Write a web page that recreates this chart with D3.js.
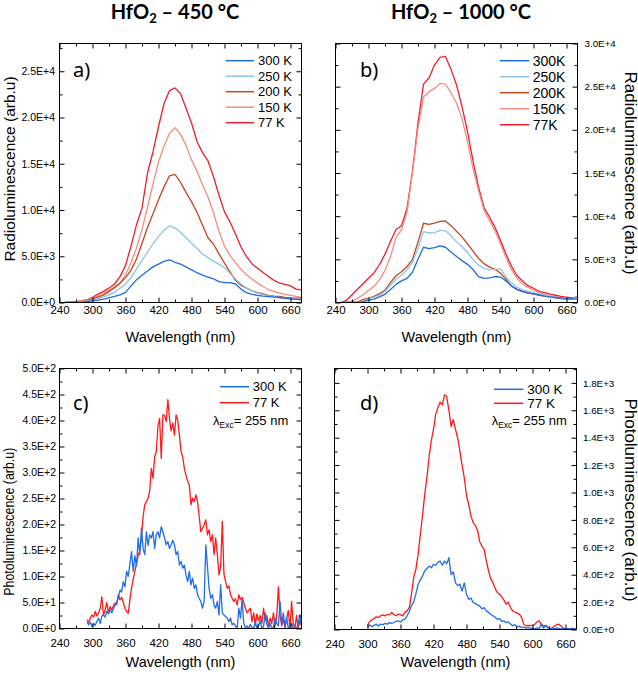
<!DOCTYPE html>
<html>
  <head>
    <meta charset="utf-8">
    <title>HfO2 radio- and photoluminescence</title>
    <script src="https://cdn.jsdelivr.net/npm/d3@7"></script>
    <style>
      body { margin: 0; background: #fff; }
      svg { display: block; font-family: "Liberation Sans", Arial, sans-serif; }
      .tick text { fill: #000; }
      .title { font-family: Lato, "Open Sans", sans-serif; font-weight: bold; font-size: 20px; }
      .plabel { font-family: "Noto Sans", sans-serif; font-size: 20px; }
    </style>
  </head>

  <body>
    <svg id="chart" width="638" height="674"></svg>

    <script>
      // ---- data ----
      // radioluminescence, wavelength grid (nm)
      rlNm = [250, 260, 270, 280, 290, 300, 310, 320, 330, 340, 350, 360, 370, 380, 390, 400, 410, 420, 430, 440, 450, 460,
              470, 480, 490, 500, 510, 520, 530, 540, 550, 560, 570, 580, 590, 600, 610, 620, 630, 640, 650, 660, 670, 680];

      // a) HfO2 450 C
      a300 = [0, 5, 20, 50, 100, 170, 250, 360, 500, 650, 830, 1100, 1800, 2450, 2950, 3400, 3850, 4150, 4450, 4600, 4350, 4150,
              3850, 3530, 3220, 2950, 2750, 2550, 2250, 2150, 2150, 2000, 1450, 1060, 880, 770, 690, 630, 580, 540, 460, 400, 340, 290];
      a250 = [0, 5, 30, 80, 170, 280, 420, 600, 830, 1100, 1550, 2000, 2700, 3600, 4550, 5450, 6350, 7150, 7800, 8300, 8050, 7600,
              7000, 6400, 5850, 5250, 4850, 4450, 4150, 3750, 3150, 2550, 2000, 1550, 1250, 1000, 850, 720, 620, 540, 460, 400, 370, 360];
      a200 = [0, 10, 40, 100, 200, 380, 580, 800, 1200, 1600, 2090, 2700, 3500, 4700, 6400, 8100, 9600, 11100, 12500, 13700, 13850, 13000,
              11900, 10910, 9750, 8350, 7000, 6300, 5250, 4250, 3300, 2400, 1850, 1550, 1250, 1070, 920, 780, 700, 650, 560, 500, 480, 470];
      a150 = [0, 20, 60, 150, 280, 480, 720, 1000, 1300, 1700, 2090, 3000, 4300, 5900, 7900, 10300, 12800, 15200, 16900, 18300, 18900, 18200,
              17000, 15420, 14200, 12700, 11400, 9700, 7700, 6100, 5100, 4300, 3600, 2990, 2550, 2100, 1730, 1400, 1210, 1010, 870, 760, 660, 540];
      a77 = [0, 50, 100, 180, 300, 550, 900, 1200, 1550, 2000, 2800, 4000, 6100, 8400, 10200, 14000, 16300, 19000, 21500, 22900, 23200, 22600,
             21000, 19400, 17400, 16200, 15300, 13600, 11600, 9800, 8700, 7400, 6000, 4970, 4200, 3700, 3250, 2800, 2400, 2090, 1950, 1800, 1450, 1370];

      // b) HfO2 1000 C
      b300 = [0, 0, 0, 0, 80, 280, 400, 660, 950, 1500, 2100, 2500, 2800, 3500, 5000, 6400, 6250, 6350, 6550, 6400, 5850, 5330,
              4850, 4420, 3820, 3000, 2800, 2850, 3010, 2950, 2500, 1900, 1550, 1300, 1120, 990, 870, 750, 650, 580, 520, 460, 420, 390];
      b250 = [0, 0, 0, 0, 80, 450, 630, 850, 1270, 2000, 2700, 3150, 3780, 4650, 6300, 8210, 8050, 8100, 8350, 8300, 7750, 7050,
              6450, 5800, 5000, 4350, 3950, 3780, 3800, 3900, 3000, 2250, 1800, 1450, 1300, 1150, 990, 840, 740, 620, 520, 420, 450, 580];
      b200 = [0, 0, 0, 80, 330, 520, 710, 1020, 1450, 2300, 3100, 3560, 4160, 5000, 7000, 9180, 9050, 9200, 9400, 9450, 8900, 8250,
              7600, 6800, 5950, 5120, 4500, 4100, 3850, 3400, 2700, 1900, 1500, 1250, 1100, 990, 870, 740, 640, 540, 440, 390, 400, 650];
      b150 = [0, 0, 150, 500, 900, 1400, 1870, 2650, 3700, 5300, 7550, 8400, 10500, 15100, 20200, 23800, 24400, 24800, 25370, 25300, 24300, 23100,
              21300, 18600, 15500, 13000, 10700, 9500, 8300, 6800, 5200, 3800, 2800, 2150, 1750, 1450, 1120, 950, 780, 660, 560, 460, 430, 600];
      b77 = [0, 250, 900, 1530, 2180, 2800, 3420, 4400, 5600, 7100, 8450, 8900, 10900, 15200, 20800, 25300, 26000, 27500, 28400, 28500, 27000, 25200,
             22700, 19800, 16400, 13400, 11000, 9900, 8700, 7200, 5600, 4200, 3100, 2500, 1950, 1650, 1300, 1150, 980, 840, 700, 620, 520, 650];

      // c) photoluminescence, HfO2 450 C
      cNm = [290, 293, 296, 299, 302, 305, 308, 311, 314, 317, 320, 323, 326, 329, 332, 335, 338, 341, 344, 347,
             350, 353, 356, 359, 362, 365, 368, 371, 374, 377, 380, 383, 386, 389, 392, 395, 398, 401, 404, 407,
             410, 413, 416, 419, 422, 425, 428, 431, 434, 437, 440, 443, 446, 449, 452, 455, 458, 461, 464, 467,
             470, 473, 476, 479, 482, 485, 488, 491, 494, 497, 500, 503, 506, 509, 512, 515, 518, 521, 524, 527,
             530, 533, 536, 539, 542, 545, 548, 551, 554, 557, 560, 563, 566, 569, 572, 575, 578, 581, 584, 587,
             590, 593, 596, 599, 602, 605, 608, 611, 614, 617, 620, 623, 626, 629, 632, 635, 638, 641, 644, 647,
             650, 653, 656, 659, 662, 665, 668, 671, 674, 677, 680];
      c300 = [13, 7, 12, 4, 10, 6, 14, 20, 10, 24, 26, 22, 33, 28, 36, 30, 38, 45, 50, 60,
              74, 70, 90, 80, 110, 100, 125, 148, 110, 140, 120, 174, 142, 193, 154, 142, 186, 160, 180, 174,
              186, 154, 180, 186, 174, 196, 186, 174, 161, 167, 154, 161, 170, 161, 142, 148, 122, 129, 116, 122,
              103, 90, 110, 84, 97, 77, 84, 65, 58, 52, 39, 52, 161, 120, 77, 58, 65, 45, 39, 52,
              26, 84, 30, 26, 23, 20, 13, 20, 7, 10, 5, 0, 39, 20, 55, 10, 0, 5, 0, 8,
              2, 0, 12, 0, 5, 15, 0, 4, 30, 8, 0, 10, 0, 3, 20, 10, 5, 52, 10, 30,
              2, 22, 0, 5, 10, 0, 0, 0, 10, 26, 5];
      c77 = [17, 12, 20, 26, 22, 33, 24, 30, 39, 61, 26, 35, 50, 30, 42, 36, 44, 49, 46, 65,
             55, 60, 50, 39, 33, 29, 55, 78, 95, 110, 125, 140, 150, 175, 215, 238, 244, 250, 265, 308,
             289, 330, 340, 390, 404, 327, 411, 410, 398, 440, 404, 380, 395, 372, 411, 400, 372, 340, 330, 308,
             295, 283, 276, 238, 251, 244, 257, 244, 215, 186, 193, 199, 209, 180, 190, 167, 180, 142, 174, 142,
             103, 120, 206, 105, 90, 77, 82, 65, 58, 52, 57, 45, 65, 55, 60, 50, 39, 30, 35, 39,
             13, 30, 7, 28, 15, 25, 10, 39, 15, 25, 6, 20, 10, 30, 5, 25, 80, 25, 5, 18,
             0, 20, 35, 0, 52, 10, 0, 25, 0, 15, 5];

      // d) photoluminescence, HfO2 1000 C
      dNm = [300, 304, 308, 312, 316, 320, 324, 328, 332, 336, 340, 344, 348, 352, 356, 360, 364, 368, 372, 376,
             380, 384, 388, 392, 396, 400, 404, 408, 412, 416, 420, 424, 428, 432, 436, 440, 444, 448, 452, 456,
             460, 464, 468, 472, 476, 480, 484, 488, 492, 496, 500, 504, 508, 512, 516, 520, 524, 528, 532, 536,
             540, 544, 548, 552, 556, 560, 564, 568, 572, 576, 580, 584, 588, 592, 596, 600, 604, 608, 612, 616,
             620, 624, 628, 632, 636, 640, 644, 648, 652, 656, 660, 664, 668, 672, 676, 680];
      d300 = [15, 34, 20, 30, 39, 25, 40, 35, 45, 39, 50, 45, 51, 60, 63, 55, 70, 75, 100, 130,
              175, 200, 260, 330, 360, 390, 427, 445, 463, 450, 476, 470, 490, 500, 470, 500, 480, 524, 400, 420,
              340, 320, 330, 280, 340, 257, 220, 230, 197, 190, 180, 172, 150, 160, 136, 125, 112, 100, 90, 75,
              80, 60, 63, 50, 55, 40, 27, 35, 20, 25, 15, 18, 10, 15, 8, 10, 5, 12, 8, 39,
              10, 27, 12, 8, 10, 5, 12, 8, 5, 10, 4, 8, 3, 10, 3, 8];
      d77 = [30, 60, 70, 80, 92, 88, 100, 107, 100, 110, 107, 124, 110, 100, 112, 108, 100, 125, 136, 160,
             260, 380, 440, 548, 690, 830, 985, 1110, 1260, 1380, 1460, 1570, 1620, 1660, 1640, 1713, 1700, 1600, 1482, 1531,
             1460, 1398, 1300, 1200, 1106, 980, 912, 830, 780, 760, 725, 640, 609, 585, 500, 430, 370, 342, 300, 270,
             257, 240, 215, 184, 200, 160, 136, 128, 120, 112, 90, 39, 27, 30, 28, 30, 35, 55, 63, 40,
             27, 30, 18, 5, 10, 25, 35, 39, 25, 10, 3, 2, 3, 2, 3, 2];

      // ticks
      xTicks = [240, 300, 360, 420, 480, 540, 600, 660];
      aTicks = [0, 5000, 10000, 15000, 20000, 25000];
      bTicks = [0, 5000, 10000, 15000, 20000, 25000, 30000];
      cTicks = [0, 50, 100, 150, 200, 250, 300, 350, 400, 450, 500];
      dTicks = [0, 200, 400, 600, 800, 1000, 1200, 1400, 1600, 1800];

      // ---- layout ----
      rlColours = ["#1f6de0", "#8cc4ea", "#c4461c", "#f58c7e", "#f01e2c"];
      plColours = ["#1f6ee8", "#ff1a1a"];

      panels = [
        { nm: rlNm, series: [a300, a250, a200, a150, a77], colours: rlColours,
          names: ["300 K", "250 K", "200 K", "150 K", "77 K"],
          left: 59.5, right: 301.5, top: 43.5, bottom: 302.5, yMax: 28000, yTicks: aTicks,
          side: "left", yPad: 4.5, yFont: 10.5, xPad: 3,
          label: "a)", labelX: 73, labelY: 77,
          legend: { x1: 225.7, x2: 254, tx: 258, y: 60.7, dy: 15.5, size: 13 },
          yTitle: "Radioluminescence (arb.u)", yTitleX: 14.5, yTitleY: 169, yTitleLen: null, yTitleSize: 15.5,
          xTitleY: 342 },
        { nm: rlNm, series: [b300, b250, b200, b150, b77], colours: rlColours,
          names: ["300K", "250K", "200K", "150K", "77K"],
          left: 335.5, right: 577.5, top: 43.5, bottom: 302.5, yMax: 30000, yTicks: bTicks,
          side: "right", yPad: 7, yFont: 9.8, xPad: 3,
          label: "b)", labelX: 360, labelY: 77,
          legend: { x1: 500, x2: 529.3, tx: 532.7, y: 60.7, dy: 16, size: 14 },
          yTitle: "Radioluminescence (arb.u)", yTitleX: 624.5, yTitleY: 173, yTitleLen: null, yTitleSize: 17,
          xTitleY: 342 },
        { nm: cNm, series: [c300, c77], colours: plColours,
          names: ["300 K", "77 K"],
          left: 59.5, right: 301.5, top: 368.5, bottom: 628.5, yMax: 500, yTicks: cTicks,
          side: "left", yPad: 3.5, yFont: 10.5, xPad: 10,
          label: "c)", labelX: 73, labelY: 410,
          legend: { x1: 220, x2: 249, tx: 252.7, y: 386.7, dy: 16, size: 13, exc: [213, 420.7] },
          yTitle: "Photoluminescence (arb.u)", yTitleX: 14, yTitleY: 521.7, yTitleLen: 148, yTitleSize: 15,
          xTitleY: 666.5 },
        { nm: dNm, series: [d300, d77], colours: plColours,
          names: ["300 K", "77 K"],
          left: 334.5, right: 576.5, top: 368.5, bottom: 629.5, yMax: 1905, yTicks: dTicks,
          side: "right", yPad: 6.5, yFont: 9.8, xPad: 10,
          label: "d)", labelX: 360, labelY: 410,
          legend: { x1: 494, x2: 523.3, tx: 527.3, y: 389.3, dy: 14, size: 13.5, exc: [491.7, 420.7] },
          yTitle: "Photoluminescence (arb.u)", yTitleX: 624.5, yTitleY: 500, yTitleLen: null, yTitleSize: 17,
          xTitleY: 666.5 }
      ];

      svg = d3.select("#chart");
      defs = svg.append("defs");

      // 2.5E+4 style labels
      function sci(v) {
        if (v === 0) return "0.0E+0";
        var e = Math.floor(Math.log10(v) + 1e-9);
        return (v / Math.pow(10, e)).toFixed(1) + "E+" + e;
      }

      function minors(ticks, max) {
        var step = ticks[1] - ticks[0];
        return ticks.map(function(t) { return t + step / 2; })
          .filter(function(t) { return t < max; });
      }

      function addAxis(g, gen, transform, ticks, size, pad, fmt, font) {
        var a = g.append("g")
          .attr("transform", transform)
          .call(gen.tickValues(ticks).tickSize(size).tickPadding(pad).tickFormat(fmt));
        a.select(".domain").remove();
        a.attr("font-family", null).attr("font-size", font);
        a.selectAll("line").attr("stroke", "#000");
        return a;
      }

      panels.forEach(function(p, k) {
        var g = svg.append("g");
        var x = d3.scaleLinear().domain([240, 680]).range([p.left, p.right]);
        var y = d3.scaleLinear().domain([0, p.yMax]).range([p.bottom, p.top]);

        defs.append("clipPath").attr("id", "clip" + k)
          .append("rect")
            .attr("x", p.left).attr("y", p.top)
            .attr("width", p.right - p.left).attr("height", p.bottom - p.top);

        var line = d3.line()
          .x(function(d, i) { return x(p.nm[i]); })
          .y(function(d) { return y(d); });

        var lines = g.append("g").attr("clip-path", "url(#clip" + k + ")");
        for (var i = p.series.length - 1; i >= 0; i--) {
          lines.append("path")
            .datum(p.series[i])
            .attr("fill", "none")
            .attr("stroke", p.colours[i])
            .attr("stroke-width", 1.3)
            .attr("stroke-linejoin", "round")
            .attr("d", line);
        }

        // axes, all ticks inward
        var xMinor = minors(xTicks, 680);
        var yMinor = minors(p.yTicks, p.yMax);
        var none = function() { return ""; };
        var bottom = "translate(0," + p.bottom + ")", top = "translate(0," + p.top + ")";
        var leftT = "translate(" + p.left + ",0)", rightT = "translate(" + p.right + ",0)";

        addAxis(g, d3.axisBottom(x), bottom, xTicks, -5, p.xPad, d3.format("d"), 11.5);
        addAxis(g, d3.axisBottom(x), bottom, xMinor, -3, 0, none, 10);
        addAxis(g, d3.axisTop(x), top, xTicks, -5, 0, none, 10);
        addAxis(g, d3.axisTop(x), top, xMinor, -3, 0, none, 10);
        addAxis(g, d3.axisLeft(y), leftT, p.yTicks, -5, p.yPad, p.side == "left" ? sci : none, p.yFont);
        addAxis(g, d3.axisLeft(y), leftT, yMinor, -3, 0, none, 10);
        addAxis(g, d3.axisRight(y), rightT, p.yTicks, -5, p.yPad, p.side == "right" ? sci : none, p.yFont);
        addAxis(g, d3.axisRight(y), rightT, yMinor, -3, 0, none, 10);

        g.append("rect")
          .attr("x", p.left).attr("y", p.top)
          .attr("width", p.right - p.left).attr("height", p.bottom - p.top)
          .attr("fill", "none").attr("stroke", "#000").attr("stroke-width", 1);

        // panel letter
        g.append("text").attr("class", "plabel")
          .attr("x", p.labelX).attr("y", p.labelY)
          .text(p.label);

        // legend
        var lg = p.legend;
        p.names.forEach(function(name, i) {
          var cy = lg.y + i * lg.dy;
          g.append("line")
            .attr("x1", lg.x1).attr("x2", lg.x2)
            .attr("y1", cy).attr("y2", cy)
            .attr("stroke", p.colours[i]).attr("stroke-width", 1.5);
          g.append("text")
            .attr("x", lg.tx).attr("y", cy + lg.size * 0.36)
            .attr("font-size", lg.size)
            .text(name);
        });
        if (lg.exc) {
          var t = g.append("text")
            .attr("x", lg.exc[0]).attr("y", lg.exc[1] + 4.5)
            .attr("font-size", 13);
          t.append("tspan").text("λ");
          t.append("tspan").attr("font-size", 8.5).attr("dy", 3).text("Exc");
          t.append("tspan").attr("dy", -3).text("= 255 nm");
        }

        // axis titles
        g.append("text")
          .attr("x", (p.left + p.right) / 2).attr("y", p.xTitleY)
          .attr("text-anchor", "middle").attr("font-size", 14.5)
          .text("Wavelength (nm)");

        var yt = g.append("text")
          .attr("transform", "translate(" + p.yTitleX + "," + p.yTitleY + ") rotate(" + (p.side == "left" ? -90 : 90) + ")")
          .attr("text-anchor", "middle").attr("font-size", p.yTitleSize)
          .text(p.yTitle);
        if (p.yTitleLen) yt.attr("textLength", p.yTitleLen).attr("lengthAdjust", "spacingAndGlyphs");
      });

      // column titles
      [["450 °C", 175], ["1000 °C", 461]].forEach(function(d) {
        var t = svg.append("text").attr("class", "title")
          .attr("x", d[1]).attr("y", 18.5)
          .attr("text-anchor", "middle");
        t.append("tspan").text("HfO");
        t.append("tspan").attr("font-size", 13).attr("dy", 4).text("2");
        t.append("tspan").attr("dy", -4).text(" – " + d[0]);
      });
    </script>
  </body>
</html>
